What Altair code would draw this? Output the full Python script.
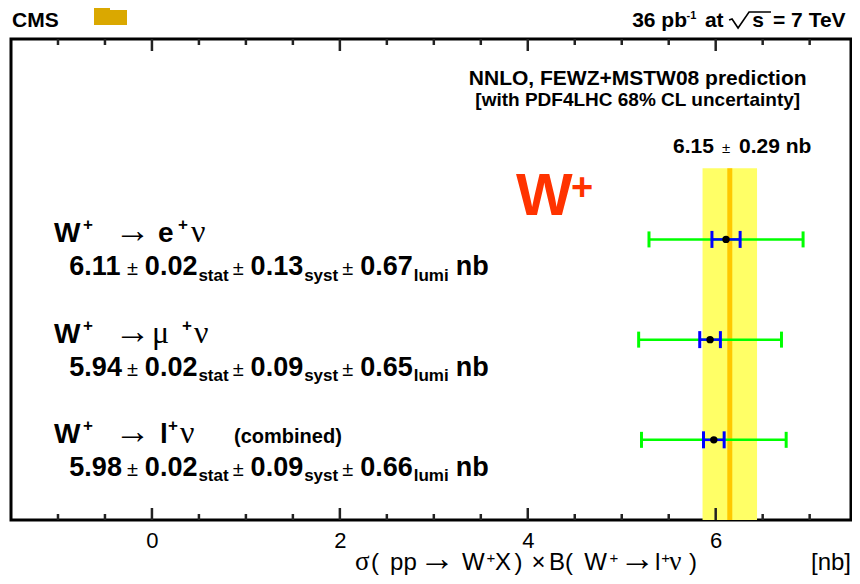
import altair as alt
import pandas as pd

# ---------------- data ----------------
rows = [3, 2, 1]                      # vertical slot of each measurement
lepton = ["e", "μ", "l"]
lepton_style = ["big", "greek", "big"]
xsec = [6.11, 5.94, 5.98]             # nb
stat = [0.02, 0.02, 0.02]
syst = [0.13, 0.09, 0.09]
lumi = [0.67, 0.65, 0.66]
theory_value = 6.15
theory_unc = 0.29
major_ticks = [0.0, 2.0, 4.0, 6.0]
minor_ticks = [-1.0, -0.5, 0.5, 1.0, 1.5, 2.5, 3.0, 3.5, 4.5, 5.0, 5.5, 6.5, 7.0]

# ---------------- layout ----------------
W_PLOT, H_PLOT = 840, 481
XDOM = [-1.5, 7.44]
YDOM = [0.2, 5.0]
PX_X = W_PLOT / (XDOM[1] - XDOM[0])      # pixels per nb
PX_Y = H_PLOT / (YDOM[1] - YDOM[0])      # pixels per row unit
xscale = alt.Scale(domain=XDOM, nice=False, zero=False)
yscale = alt.Scale(domain=YDOM, nice=False, zero=False)


def X(f, **kw):
    return alt.X(field=f, type="quantitative", scale=xscale, **kw)


def Y(f):
    return alt.Y(field=f, type="quantitative", scale=yscale, axis=None)


meas = pd.DataFrame({"row": rows, "x": xsec, "stat": stat, "syst": syst, "lumi": lumi})
meas["blo"] = meas.x - (meas.stat + meas.syst)
meas["bhi"] = meas.x + (meas.stat + meas.syst)
meas["glo"] = meas.x - (meas.stat + meas.syst + meas.lumi)
meas["ghi"] = meas.x + (meas.stat + meas.syst + meas.lumi)

theory = pd.DataFrame({"c": [theory_value], "lo": [theory_value - theory_unc],
                       "hi": [theory_value + theory_unc], "yb": [YDOM[0]], "yt": [3.71]})

xaxis = alt.Axis(values=major_ticks, format="d", ticks=False, tickSize=0, domain=False,
                 grid=False, title=None, labelFont="Liberation Sans", labelFontSize=22,
                 labelColor="black", labelPadding=10)

band = alt.Chart(theory).mark_rect(color="#FFFF66").encode(
    x=X("lo", axis=xaxis), x2=alt.X2(field="hi"), y=Y("yb"), y2=alt.Y2(field="yt"))
cline = alt.Chart(theory).mark_rule(color="#FFC800", strokeWidth=5).encode(
    x=X("c"), y=Y("yb"), y2=alt.Y2(field="yt"))

green = alt.Chart(meas).mark_rule(color="#00FF00", strokeWidth=2.5).encode(
    x=X("glo"), x2=alt.X2(field="ghi"), y=Y("row"))
gcaps = alt.Chart(meas).transform_fold(["glo", "ghi"], as_=["k", "v"]).mark_tick(
    orient="vertical", color="#00FF00", size=16, thickness=3, opacity=1).encode(
    x=X("v"), y=Y("row"))
blue = alt.Chart(meas).mark_rule(color="#0000FF", strokeWidth=2.5).encode(
    x=X("blo"), x2=alt.X2(field="bhi"), y=Y("row"))
bcaps = alt.Chart(meas).transform_fold(["blo", "bhi"], as_=["k", "v"]).mark_tick(
    orient="vertical", color="#0000FF", size=17, thickness=3, opacity=1).encode(
    x=X("v"), y=Y("row"))
pts = alt.Chart(meas).mark_circle(color="black", size=55, opacity=1).encode(
    x=X("x"), y=Y("row"))

# inward ticks on the frame (top and bottom)
tick_rows = []
for vals, length in ((major_ticks, 12), (minor_ticks, 6)):
    for v in vals:
        tick_rows.append({"tickpos": v, "ya": YDOM[1], "yb2": YDOM[1] - length / PX_Y,
                          "yc": YDOM[0], "yd": YDOM[0] + length / PX_Y})
tick_data = alt.Data(values=tick_rows)
ticks_top = alt.Chart(tick_data).mark_rule(color="#222222", strokeWidth=2.5, opacity=1).encode(
    x=X("tickpos"), y=Y("ya"), y2=alt.Y2(field="yb2"))
ticks_bot = alt.Chart(tick_data).mark_rule(color="#222222", strokeWidth=2.5, opacity=1).encode(
    x=X("tickpos"), y=Y("yc"), y2=alt.Y2(field="yd"))

# ---------------- text pieces ----------------
styles = {
    "big": dict(font="Liberation Sans", fontSize=28, fontWeight="bold"),
    "sup": dict(font="Liberation Sans", fontSize=17, fontWeight="bold"),
    "arrow": dict(font="Liberation Serif", fontSize=36),
    "greek": dict(font="Liberation Serif", fontSize=32),
    "comb": dict(font="Liberation Sans", fontSize=20, fontWeight="bold"),
    "val": dict(font="Liberation Sans", fontSize=27, fontWeight="bold"),
    "sub": dict(font="Liberation Sans", fontSize=17, fontWeight="bold"),
    "pm": dict(font="Liberation Sans", fontSize=20),
    "head": dict(font="Liberation Sans", fontSize=21, fontWeight="bold"),
    "headsup": dict(font="Liberation Sans", fontSize=11, fontWeight="bold"),
    "pred1": dict(font="Liberation Sans", fontSize=21, fontWeight="bold", align="center"),
    "pred2": dict(font="Liberation Sans", fontSize=19, fontWeight="bold", align="center"),
    "theo": dict(font="Liberation Sans", fontSize=21, fontWeight="bold"),
    "theopm": dict(font="Liberation Sans", fontSize=15),
    "wbig": dict(font="Liberation Sans", fontSize=60, fontWeight="bold", color="#FF3300"),
    "wsup": dict(font="Liberation Sans", fontSize=38, fontWeight="bold", color="#FF3300"),
    "xt": dict(font="Liberation Sans", fontSize=24),
    "xtr": dict(font="Liberation Sans", fontSize=24, align="right"),
    "xtg": dict(font="Liberation Serif", fontSize=27),
    "xtsup": dict(font="Liberation Sans", fontSize=15),
    "xtarrow": dict(font="Liberation Serif", fontSize=36),
}

EM = {**{d: 0.556 for d in "0123456789"}, ".": 0.278, "s": 0.556, "t": 0.333, "a": 0.556,
      "y": 0.556, "l": 0.278, "u": 0.611, "m": 0.889, "i": 0.278, "n": 0.611, "b": 0.611,
      "±": 0.549}


def text_w(t, style):
    return sum(EM.get(c, 0.55) for c in t) * styles[style]["fontSize"] / PX_X


TITLE_DY, SUP_DY, VAL_DY, SUB_DY = -0.03, 0.09, -0.36, -0.41
lep_x = [0.065, 0.001, 0.086]
lep_sup_x = [0.278, 0.320, 0.171]
nu_x = [0.416, 0.448, 0.299]
val_styles = ["val", "pm", "val", "sub", "pm", "val", "sub", "pm", "val", "sub", "val"]
GAP_AFTER = {("val", "pm"): 5, ("pm", "val"): 7, ("val", "sub"): 1, ("sub", "pm"): 4,
             ("sub", "val"): 7}
VAL_X0 = -0.879

items = []
for i, r in enumerate(rows):
    tb = r + TITLE_DY
    items += [("big", "W", -1.042, tb), ("sup", "+", -0.735, r + SUP_DY),
              ("arrow", "→", -0.395, tb), (lepton_style[i], lepton[i], lep_x[i], tb),
              ("sup", "+", lep_sup_x[i], r + SUP_DY), ("greek", "ν", nu_x[i], tb)]
    if lepton[i] == "l":
        items.append(("comb", "(combined)", 0.874, tb))
    texts = [f"{xsec[i]:.2f}", "±", f"{stat[i]:.2f}", "stat", "±", f"{syst[i]:.2f}", "syst",
             "±", f"{lumi[i]:.2f}", "lumi", "nb"]
    xx = VAL_X0
    for k, (s, t) in enumerate(zip(val_styles, texts)):
        items.append((s, t, xx, r + (SUB_DY if s == "sub" else VAL_DY)))
        if k + 1 < len(texts):
            xx += text_w(t, s) + GAP_AFTER[(s, val_styles[k + 1])] / PX_X

HB = 5.115   # header baseline
items += [
    ("head", "CMS", -1.489, HB),
    ("head", "36 pb", 5.111, HB), ("headsup", "-1", 5.690, 5.2),
    ("head", "at", 5.885, HB),
    ("head", "s", 6.39, HB), ("head", "= 7 TeV", 6.610, HB),
    ("pred1", "NNLO, FEWZ+MSTW08 prediction", 5.17, 4.54),
    ("pred2", "[with PDF4LHC 68% CL uncertainty]", 5.17, 4.33),
    ("theo", f"{theory_value:.2f}", 5.546, 3.86), ("theopm", "±", 6.067, 3.86),
    ("theo", f"{theory_unc:.2f} nb", 6.248, 3.86),
    ("wbig", "W", 3.875, 3.244), ("wsup", "+", 4.460, 3.389),
]
XT_B, XT_S = -0.299, -0.229
items += [
    ("xtg", "σ", 2.162, XT_B), ("xt", "(", 2.332, XT_B), ("xt", "pp", 2.534, XT_B),
    ("xtarrow", "→", 2.845, XT_B), ("xt", "W", 3.300, XT_B), ("xtsup", "+", 3.560, XT_S),
    ("xt", "X", 3.650, XT_B), ("xt", ")", 3.860, XT_B), ("xt", "×", 4.040, XT_B),
    ("xt", "B(", 4.226, XT_B), ("xt", "W", 4.600, XT_B), ("xtsup", "+", 4.870, XT_S),
    ("xtarrow", "→", 4.975, XT_B), ("xt", "l", 5.355, XT_B), ("xtsup", "+", 5.420, XT_S),
    ("xtg", "ν", 5.505, XT_B), ("xt", ")", 5.715, XT_B), ("xtr", "[nb]", XDOM[1], XT_B),
]
tdf = pd.DataFrame(items, columns=["style", "text", "x", "y"])

text_layers = []
for s, props in styles.items():
    sub = tdf[tdf["style"] == s]
    if sub.empty:
        continue
    p = dict(align="left", baseline="alphabetic", color="black")
    p.update(props)
    text_layers.append(alt.Chart(sub).mark_text(**p).encode(
        x=X("x"), y=Y("y"), text=alt.Text(field="text", type="nominal")))

# square-root sign of the header (drawn as a stroke)
root = pd.DataFrame({"x": [6.142, 6.174, 6.238, 6.355, 6.589],
                     "y": [5.19, 5.20, 5.11, 5.27, 5.27], "o": [0, 1, 2, 3, 4]})
root_line = alt.Chart(root).mark_line(color="black", strokeWidth=1.6).encode(
    x=X("x"), y=Y("y"), order=alt.Order(field="o", type="quantitative"))

# logo fragment at the top
logo_df = pd.DataFrame({"k": [0]})
logo1 = alt.Chart(logo_df).mark_rect(color="#DAA800").encode(
    x=alt.value(83), x2=alt.value(99), y=alt.value(-31), y2=alt.value(-14))
logo2 = alt.Chart(logo_df).mark_rect(color="#DAA800").encode(
    x=alt.value(99), x2=alt.value(116), y=alt.value(-29), y2=alt.value(-14))

chart = alt.layer(band, cline, green, gcaps, blue, bcaps, pts, ticks_top, ticks_bot,
                  *text_layers, root_line, logo1, logo2).properties(
    width=W_PLOT, height=H_PLOT,
    autosize=alt.AutoSizeParams(type="none"),
    padding={"left": 3, "top": 31, "right": 1, "bottom": 56},
    background="white",
).configure_view(stroke="black", strokeWidth=3)

chart.save("out.html", embed_options={"renderer": "svg", "actions": False})
